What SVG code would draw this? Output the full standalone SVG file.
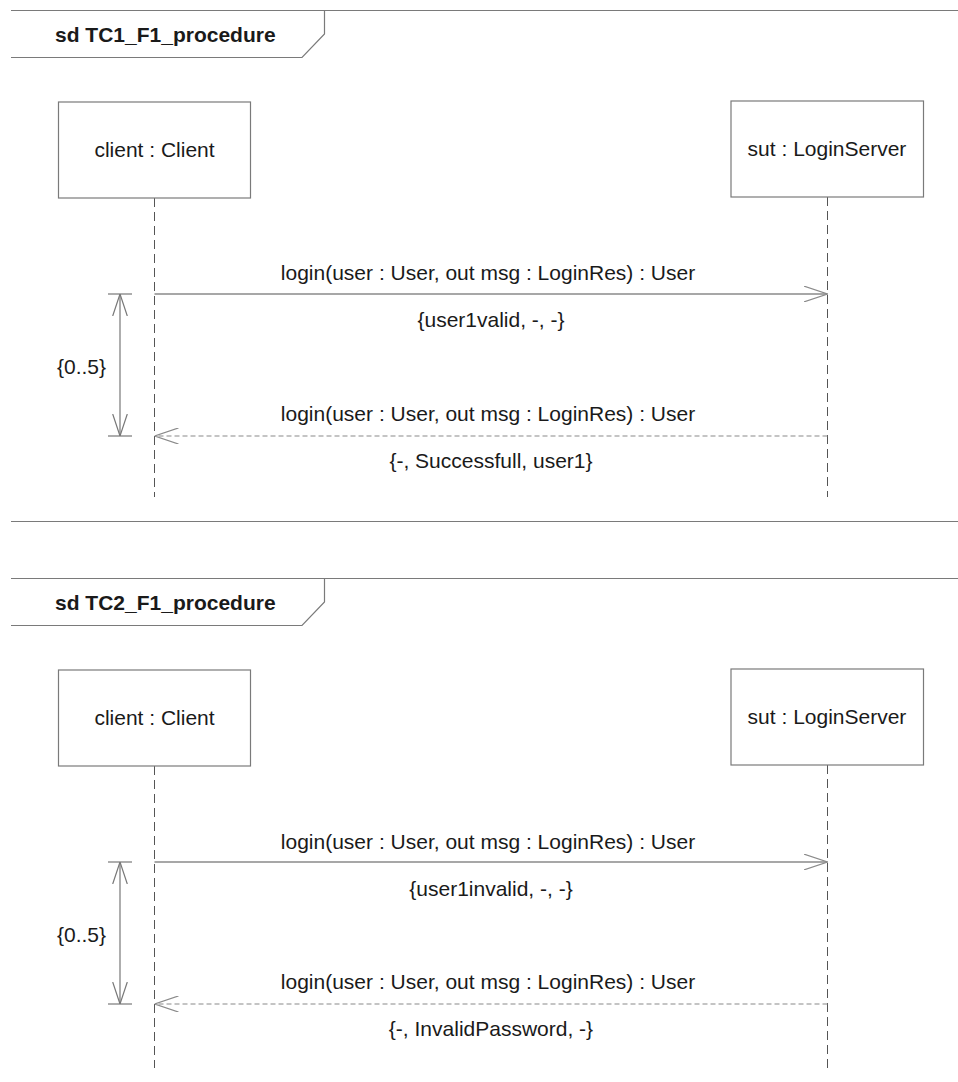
<svg xmlns="http://www.w3.org/2000/svg" width="958" height="1082" viewBox="0 0 958 1082">
<style>
text{font-family:"Liberation Sans",Arial,sans-serif;font-size:21px;fill:#1a1a1a}
.title{font-weight:bold}
.mid{text-anchor:middle}
.frame{fill:none;stroke:#7a7a7a;stroke-width:1.2}
.box{fill:#fff;stroke:#7a7a7a;stroke-width:1.2}
.life{stroke:#555;stroke-width:1;stroke-dasharray:9 5;fill:none}
.msg{stroke:#8a8a8a;stroke-width:1.3;fill:none}
.ret{stroke:#8a8a8a;stroke-width:1.2;fill:none;stroke-dasharray:5 3}
.dur{stroke:#777;stroke-width:1.2;fill:none}
</style>
<defs>
<marker id="open" markerUnits="userSpaceOnUse" viewBox="0 0 24 16" markerWidth="24" markerHeight="16" refX="24" refY="8" orient="auto">
<path d="M0,0 L24,8 L0,16" fill="none" stroke="#8a8a8a" stroke-width="1.3"/>
</marker>
<marker id="dur" markerUnits="userSpaceOnUse" viewBox="0 0 22 16" markerWidth="22" markerHeight="16" refX="22" refY="8" orient="auto-start-reverse">
<path d="M0,0.7 L22,8 L0,15.3" fill="none" stroke="#777" stroke-width="1.2"/>
</marker>
</defs>

<g id="frame1">
<line class="frame" x1="11" y1="10.5" x2="958" y2="10.5"/>
<line class="frame" x1="11" y1="521.5" x2="958" y2="521.5"/>
<path class="frame" d="M11,57.5 H302 L324.5,34 V10.5"/>
<text class="title" x="55" y="41.5">sd TC1_F1_procedure</text>
</g>

<g id="client1">
<line class="life" x1="154.5" y1="198" x2="154.5" y2="497"/>
<rect class="box" x="58.5" y="102" width="192" height="96"/>
<text class="mid" x="154.5" y="157">client : Client</text>
</g>
<g id="sut1">
<line class="life" x1="827.5" y1="197" x2="827.5" y2="497"/>
<rect class="box" x="731" y="101" width="192.5" height="96"/>
<text class="mid" x="827" y="156">sut : LoginServer</text>
</g>

<g id="frame2">
<line class="frame" x1="11" y1="578.5" x2="958" y2="578.5"/>
<path class="frame" d="M11,625.5 H302 L324.5,602 V578.5"/>
<text class="title" x="55" y="609.5">sd TC2_F1_procedure</text>
</g>

<g id="client2">
<line class="life" x1="154.5" y1="766" x2="154.5" y2="1068"/>
<rect class="box" x="58.5" y="670" width="192" height="96"/>
<text class="mid" x="154.5" y="725">client : Client</text>
</g>
<g id="sut2">
<line class="life" x1="827.5" y1="765" x2="827.5" y2="1068"/>
<rect class="box" x="731" y="669" width="192.5" height="96"/>
<text class="mid" x="827" y="724">sut : LoginServer</text>
</g>

<g id="connectors">
<line class="msg" x1="154.5" y1="294" x2="827.5" y2="294" marker-end="url(#open)"/>
<text class="mid" x="488" y="280">login(user : User, out msg : LoginRes) : User</text>
<text class="mid" x="491" y="327">{user1valid, -, -}</text>
<line class="ret" x1="827.5" y1="436" x2="154.5" y2="436" marker-end="url(#open)"/>
<text class="mid" x="488" y="421">login(user : User, out msg : LoginRes) : User</text>
<text class="mid" x="491" y="468">{-, Successfull, user1}</text>
<line class="dur" x1="108" y1="294" x2="132" y2="294"/>
<line class="dur" x1="108" y1="436" x2="132" y2="436"/>
<line class="dur" x1="120" y1="294" x2="120" y2="436" marker-start="url(#dur)" marker-end="url(#dur)"/>
<text x="57" y="374">{0..5}</text>

<line class="msg" x1="154.5" y1="862" x2="827.5" y2="862" marker-end="url(#open)"/>
<text class="mid" x="488" y="849">login(user : User, out msg : LoginRes) : User</text>
<text class="mid" x="491" y="896">{user1invalid, -, -}</text>
<line class="ret" x1="827.5" y1="1004" x2="154.5" y2="1004" marker-end="url(#open)"/>
<text class="mid" x="488" y="989">login(user : User, out msg : LoginRes) : User</text>
<text class="mid" x="491" y="1036">{-, InvalidPassword, -}</text>
<line class="dur" x1="108" y1="862" x2="132" y2="862"/>
<line class="dur" x1="108" y1="1004" x2="132" y2="1004"/>
<line class="dur" x1="120" y1="862" x2="120" y2="1004" marker-start="url(#dur)" marker-end="url(#dur)"/>
<text x="57" y="942">{0..5}</text>
</g>
</svg>
